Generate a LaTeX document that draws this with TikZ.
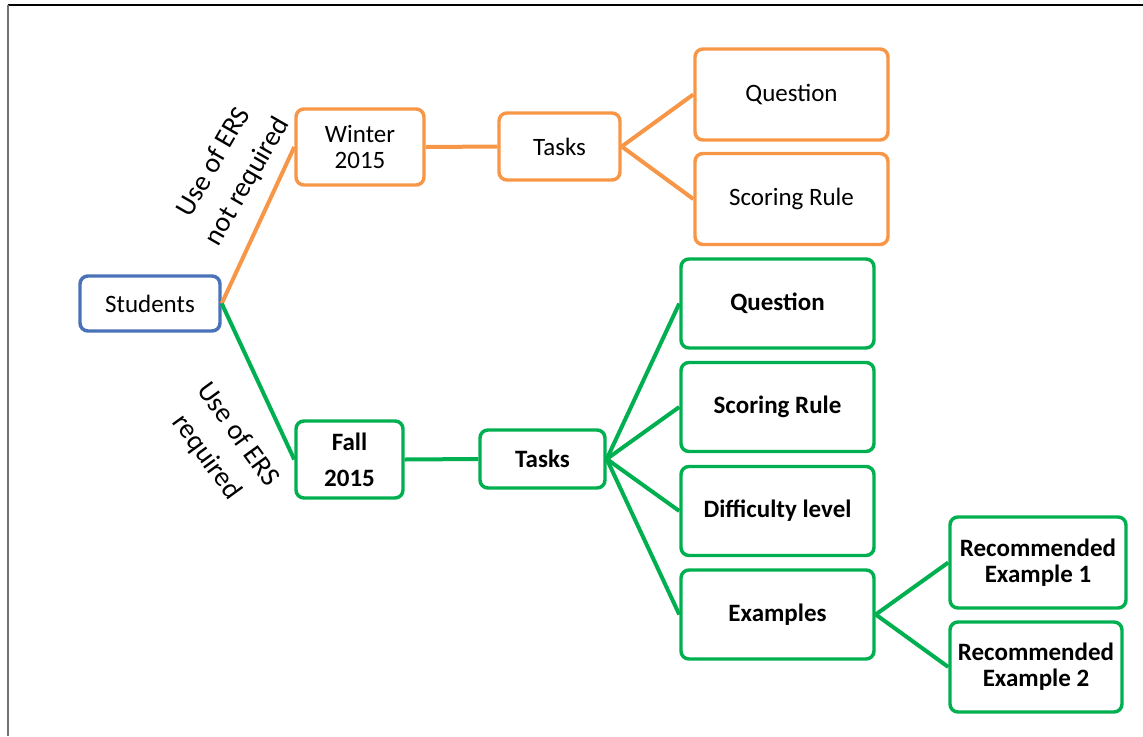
\documentclass[tikz,border=0pt]{standalone}
\usepackage{fontspec}
\setmainfont{Carlito}
\definecolor{orn}{HTML}{F79646}
\definecolor{grn}{HTML}{00B050}
\definecolor{blu}{HTML}{4A72B8}
\begin{document}
\begin{tikzpicture}[x=0.75pt,y=-0.75pt,
  box/.style={draw, line width=2.6pt, rounded corners=6pt, align=center, inner sep=0pt, text=black,
    font=\fontsize{18.75}{19.5}\selectfont},
  obox/.style={box, draw=orn},
  gbox/.style={box, draw=grn, font=\fontsize{18.75}{19.5}\selectfont\bfseries},
  oline/.style={draw=orn, line width=3pt},
  gline/.style={draw=grn, line width=3pt},
  lab/.style={align=center, font=\fontsize{21}{29}\selectfont, inner sep=0pt}]
\useasboundingbox (0,0) rectangle (1143,736);
\draw[black, line width=0.9pt] (8,5) -- (1143,5);
\draw[black!55, line width=1.3pt] (8,5) -- (8,736);
% nodes
\node[box, draw=blu, minimum width=105pt, minimum height=41.25pt] (stu) at (150,303.5) {Students};
\node[obox, minimum width=96pt, minimum height=57pt] (win) at (360,147) {Winter\\2015};
\node[obox, minimum width=90.75pt, minimum height=50.25pt] (otask) at (559.5,146.5) {Tasks};
\node[obox, minimum width=144.75pt, minimum height=68.25pt] (oq) at (791.5,94.5) {Question};
\node[obox, minimum width=144.75pt, minimum height=68.25pt] (osr) at (791.5,199) {Scoring Rule};
\node[gbox, minimum width=80.25pt, minimum height=57.75pt, font=\fontsize{18.75}{27}\selectfont\bfseries] (fall) at (349.5,459.5) {Fall\\2015};
\node[gbox, minimum width=93.75pt, minimum height=43.5pt] (gtask) at (542.5,459) {Tasks};
\node[gbox, minimum width=144.75pt, minimum height=66.75pt] (gq) at (777.5,303.5) {Question};
\node[gbox, minimum width=144.75pt, minimum height=66.75pt] (gsr) at (777.5,407) {Scoring Rule};
\node[gbox, minimum width=144.75pt, minimum height=66.75pt] (gdl) at (777.5,511) {Difficulty level};
\node[gbox, minimum width=144.75pt, minimum height=66.75pt] (gex) at (777.5,614.5) {Examples};
\node[gbox, minimum width=132pt, minimum height=68.25pt] (r1) at (1038,562.5) {Recommended\\Example 1};
\node[gbox, minimum width=129pt, minimum height=67.5pt] (r2) at (1036,667) {Recommended\\Example 2};
% connectors
\draw[oline] (stu.east) -- (win.west);
\draw[gline] (stu.east) -- (fall.west);
\draw[oline] (win.east) -- (otask.west);
\draw[oline] (otask.east) -- (oq.west);
\draw[oline] (otask.east) -- (osr.west);
\draw[gline] (fall.east) -- (gtask.west);
\draw[gline] (gtask.east) -- (gq.west);
\draw[gline] (gtask.east) -- (gsr.west);
\draw[gline] (gtask.east) -- (gdl.west);
\draw[gline] (gtask.east) -- (gex.west);
\draw[gline] (gex.east) -- (r1.west);
\draw[gline] (gex.east) -- (r2.west);
% labels
\node[lab, rotate=60] (l1) at (231,172) {Use of ERS\\not required};
\node[lab, rotate=-54] (l2) at (222,446) {Use of ERS\\required};
\end{tikzpicture}
\end{document}
